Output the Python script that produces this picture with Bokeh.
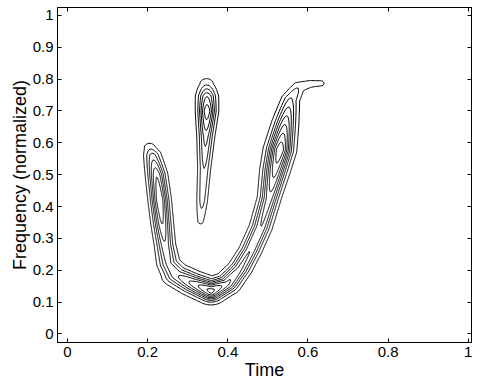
import numpy as np
from bokeh.plotting import figure
from bokeh.models import LinearAxis, FixedTicker, Range1d
from bokeh.embed import file_html
from bokeh.resources import INLINE

# ---- data: ridge skeletons of the time-frequency energy ----
# main U-shaped ridge (left ridge -> bottom -> right ridge -> flare)
u_time = [0.205, 0.212, 0.222, 0.230, 0.236, 0.243, 0.252, 0.272, 0.310, 0.358, 0.398, 0.430, 0.456, 0.482, 0.503, 0.518, 0.530, 0.543, 0.556, 0.576, 0.605, 0.632]
u_freq = [0.585, 0.560, 0.500, 0.420, 0.350, 0.280, 0.220, 0.185, 0.160, 0.135, 0.158, 0.205, 0.262, 0.335, 0.425, 0.515, 0.578, 0.660, 0.735, 0.775, 0.785, 0.787]
u_amp = [0.15, 0.35, 0.62, 0.74, 0.64, 0.50, 0.44, 0.50, 0.66, 0.90, 0.66, 0.55, 0.52, 0.52, 0.58, 0.80, 0.95, 0.62, 0.32, 0.18, 0.14, 0.12]
u_wid = [0.012, 0.013, 0.014, 0.014, 0.014, 0.014, 0.016, 0.020, 0.020, 0.020, 0.018, 0.016, 0.015, 0.015, 0.015, 0.018, 0.019, 0.017, 0.014, 0.012, 0.010, 0.009]

# short middle ridge
m_time = [0.347, 0.348, 0.348, 0.345, 0.341, 0.336, 0.332]
m_freq = [0.785, 0.745, 0.700, 0.620, 0.520, 0.420, 0.352]
m_amp = [0.16, 0.52, 0.72, 0.46, 0.30, 0.24, 0.11]
m_wid = [0.014, 0.015, 0.014, 0.012, 0.010, 0.009, 0.008]

levels = [0.08, 0.19, 0.30, 0.41, 0.52, 0.63, 0.74, 0.85]

x_ticks = [0, 0.2, 0.4, 0.6, 0.8, 1]
x_labels = ["0", "0.2", "0.4", "0.6", "0.8", "1"]
y_ticks = [0, 0.1, 0.2, 0.3, 0.4, 0.5, 0.6, 0.7, 0.8, 0.9, 1]
y_labels = ["0", "0.1", "0.2", "0.3", "0.4", "0.5", "0.6", "0.7", "0.8", "0.9", "1"]

# ---- build the energy field from the ridges ----
gx = np.linspace(0, 1, 321)
gy = np.linspace(0, 1, 321)
X, Y = np.meshgrid(gx, gy)


def ridge_field(t, f, a, w):
    t = np.asarray(t); f = np.asarray(f); a = np.asarray(a); w = np.asarray(w)
    out = np.zeros_like(X)
    for i in range(len(t) - 1):
        x0, y0, x1, y1 = t[i], f[i], t[i + 1], f[i + 1]
        dx, dy = x1 - x0, y1 - y0
        L2 = dx * dx + dy * dy
        s = np.clip(((X - x0) * dx + (Y - y0) * dy) / L2, 0, 1)
        d2 = (X - x0 - s * dx) ** 2 + (Y - y0 - s * dy) ** 2
        amp = a[i] + (a[i + 1] - a[i]) * s
        wid = w[i] + (w[i + 1] - w[i]) * s
        out = np.maximum(out, amp * np.exp(-d2 / (2 * wid ** 2)))
    return out


Z = np.maximum(ridge_field(u_time, u_freq, u_amp, u_wid),
               ridge_field(m_time, m_freq, m_amp, m_wid))

# ---- figure ----
p = figure(width=481, height=385, output_backend="svg", toolbar_location=None,
           x_range=Range1d(-0.025, 1.008), y_range=Range1d(-0.027, 1.025),
           min_border_left=57, min_border_right=10, min_border_top=7, min_border_bottom=43)
p.grid.visible = False
p.outline_line_color = "black"
p.outline_line_width = 1
p.background_fill_color = "white"
p.border_fill_color = "white"

p.contour(gx, gy, Z, levels, line_color="black", line_width=1, fill_color=None)

FONT = "Liberation Sans"
for ax, ticks, labels in ((p.xaxis[0], x_ticks, x_labels), (p.yaxis[0], y_ticks, y_labels)):
    ax.ticker = FixedTicker(ticks=ticks)
    ax.major_label_overrides = {t: l for t, l in zip(ticks, labels)}
    ax.major_tick_in = 4
    ax.major_tick_out = 0
    ax.minor_tick_line_color = None
    ax.axis_line_color = "black"
    ax.major_label_text_font = FONT
    ax.major_label_text_font_size = "15px"
    ax.major_label_text_color = "black"
    ax.axis_label_text_font = FONT
    ax.axis_label_text_font_size = "18px"
    ax.axis_label_text_font_style = "normal"
    ax.axis_label_text_color = "black"
    ax.major_label_standoff = 4
    ax.axis_label_standoff = 0

p.xaxis[0].axis_label = "Time"
p.yaxis[0].axis_label = "Frequency (normalized)"

top = LinearAxis(ticker=FixedTicker(ticks=x_ticks), major_tick_in=4, major_tick_out=0,
                 minor_tick_line_color=None, major_label_text_color=None,
                 major_label_text_font_size="1px", major_label_standoff=0)
right = LinearAxis(ticker=FixedTicker(ticks=y_ticks), major_tick_in=4, major_tick_out=0,
                   minor_tick_line_color=None, major_label_text_color=None,
                   major_label_text_font_size="1px", major_label_standoff=0)
p.add_layout(top, "above")
p.add_layout(right, "right")

open("out.html", "w").write(file_html(p, INLINE))
